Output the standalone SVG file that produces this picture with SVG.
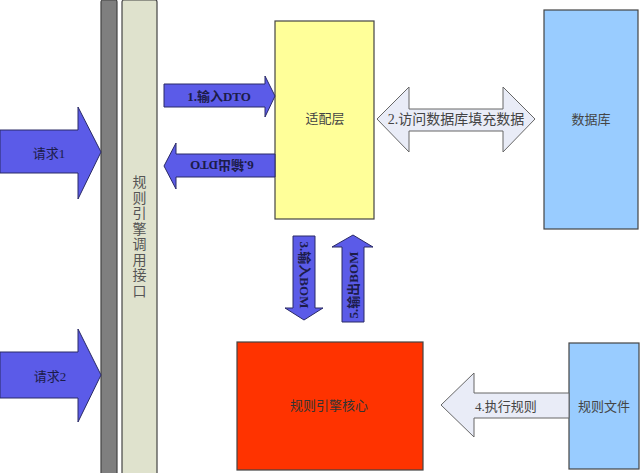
<svg xmlns="http://www.w3.org/2000/svg" width="640" height="473" viewBox="0 0 640 473">
<style>
text{font-family:"Liberation Serif","Noto Sans CJK SC",serif;font-size:13px;text-anchor:middle;dominant-baseline:central}
.box{stroke:#444;stroke-width:1.2}
.blue{fill:#5b5be8;stroke:#2a2a66;stroke-width:1}
.pale{fill:#e9ecf7;stroke:#666;stroke-width:1}
.dk{fill:#1c1c4a}
.gr{fill:#444}
.b{font-weight:bold}
</style>
<rect width="640" height="473" fill="#ffffff"/>
<g id="bar-dark"><rect x="101" y="0" width="16" height="476" rx="2" fill="#7f7f7f" stroke="#444" stroke-width="1.2"/></g>
<g id="interface"><rect x="122" y="0" width="35" height="476" rx="2" fill="#dfe2cd" class="box"/>
<text fill="#555" x="139.5" style="font-size:14px"><tspan x="139.5" y="182">规</tspan><tspan x="139.5" y="197.5">则</tspan><tspan x="139.5" y="213">引</tspan><tspan x="139.5" y="228.5">擎</tspan><tspan x="139.5" y="244">调</tspan><tspan x="139.5" y="259.5">用</tspan><tspan x="139.5" y="275">接</tspan><tspan x="139.5" y="290.5">口</tspan></text></g>
<g id="adapter"><rect x="275" y="21" width="99" height="198" fill="#ffff99" class="box"/><text class="gr" x="325" y="118">适配层</text></g>
<g id="database"><rect x="544" y="10" width="94" height="219" fill="#99ccff" class="box"/><text class="gr" x="591" y="119">数据库</text></g>
<g id="core"><rect x="237" y="342" width="186" height="128" fill="#ff3300" class="box"/><text fill="#333" x="329" y="405">规则引擎核心</text></g>
<g id="rulefile"><rect x="569" y="343" width="70" height="126" fill="#99ccff" class="box"/><text class="gr" x="604" y="406">规则文件</text></g>
<g id="connectors">
<g id="req1"><path class="blue" d="M0,130 H78 V107 L101,152 L78,199 V173 H0 Z"/><text class="dk" x="49" y="153">请求1</text></g>
<g id="req2"><path class="blue" d="M0,352 H78 V329 L101,375 L78,422 V398 H0 Z"/><text class="dk" x="50" y="376">请求2</text></g>
<g id="a1"><path class="blue" d="M164,84 H265 V76 L275,96 L265,117 V107 H164 Z"/><text class="dk b" x="219" y="96">1.输入DTO</text></g>
<g id="a6"><path class="blue" d="M275,154 H176 V143 L164,166 L176,189 V177 H275 Z"/><text class="dk b" x="222" y="165" transform="rotate(180 222 165)">6.输出DTO</text></g>
<g id="a2"><path class="pale" d="M377,119 L409,87 V109 H503 V87 L535,119 L503,152 V131 H409 V152 Z"/><text class="gr" x="456" y="119" style="font-size:14px">2.访问数据库填充数据</text></g>
<g id="a3"><path class="blue" d="M293,236 H315 V308 H323 L304,320 L285,308 H293 Z"/><text class="dk b" x="304" y="275" transform="rotate(90 304 275)">3.输入BOM</text></g>
<g id="a5"><path class="blue" d="M342,322 V247 H332 L353,235 L373,247 H364 V322 Z"/><text class="dk b" x="353" y="285" transform="rotate(-90 353 285)">5.输出BOM</text></g>
<g id="a4"><path class="pale" d="M569,393 H474 V373 L441,405 L474,437 V418 H569 Z"/><text class="gr" x="506" y="406">4.执行规则</text></g>
</g>
</svg>
